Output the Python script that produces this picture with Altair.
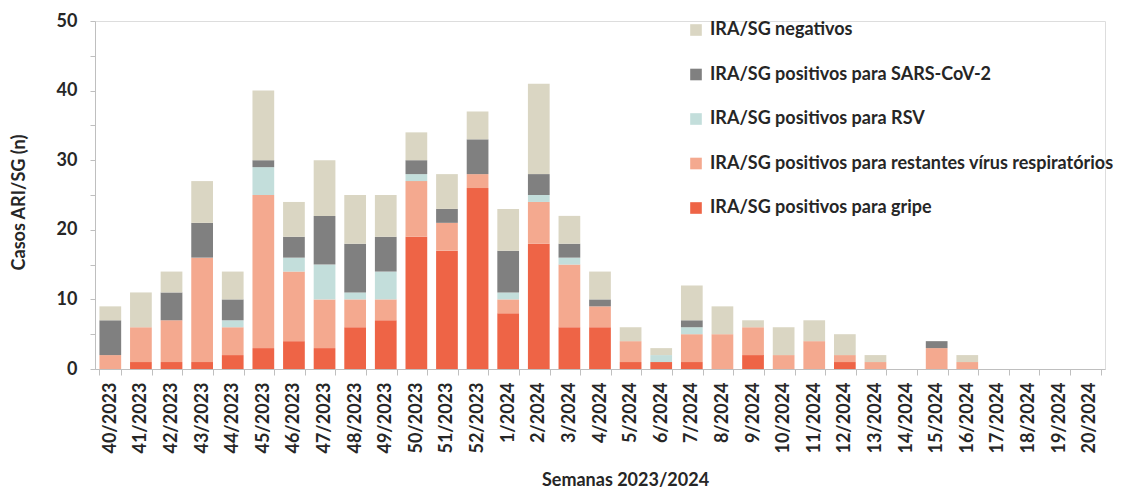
import altair as alt
import pandas as pd

weeks = ["40/2023", "41/2023", "42/2023", "43/2023", "44/2023", "45/2023", "46/2023",
         "47/2023", "48/2023", "49/2023", "50/2023", "51/2023", "52/2023",
         "1/2024", "2/2024", "3/2024", "4/2024", "5/2024", "6/2024", "7/2024", "8/2024",
         "9/2024", "10/2024", "11/2024", "12/2024", "13/2024", "14/2024", "15/2024",
         "16/2024", "17/2024", "18/2024", "19/2024", "20/2024"]

gripe =     [0, 1, 1, 1, 2, 3, 4, 3, 6, 7, 19, 17, 26, 8, 18, 6, 6, 1, 1, 1, 0, 2, 0, 0, 1, 0, 0, 0, 0, 0, 0, 0, 0]
restantes = [2, 5, 6, 15, 4, 22, 10, 7, 4, 3, 8, 4, 2, 2, 6, 9, 3, 3, 0, 4, 5, 4, 2, 4, 1, 1, 0, 3, 1, 0, 0, 0, 0]
rsv =       [0, 0, 0, 0, 1, 4, 2, 5, 1, 4, 1, 0, 0, 1, 1, 1, 0, 0, 1, 1, 0, 0, 0, 0, 0, 0, 0, 0, 0, 0, 0, 0, 0]
sars =      [5, 0, 4, 5, 3, 1, 3, 7, 7, 5, 2, 2, 5, 6, 3, 2, 1, 0, 0, 1, 0, 0, 0, 0, 0, 0, 0, 1, 0, 0, 0, 0, 0]
negativos = [2, 5, 3, 6, 4, 10, 5, 8, 7, 6, 4, 5, 4, 6, 13, 4, 4, 2, 1, 5, 4, 1, 4, 3, 3, 1, 0, 0, 1, 0, 0, 0, 0]

series_names = ["IRA/SG positivos para gripe",
                "IRA/SG positivos para restantes vírus respiratórios",
                "IRA/SG positivos para RSV",
                "IRA/SG positivos para SARS-CoV-2",
                "IRA/SG negativos"]
series_values = [gripe, restantes, rsv, sars, negativos]
series_colors = ["#EE6446", "#F4A98F", "#C3DEDB", "#808080", "#DAD6C3"]

rows = []
for si, (name, vals) in enumerate(zip(series_names, series_values)):
    for w, v in zip(weeks, vals):
        rows.append({"week": w, "series": name, "value": v, "ord": si})
df = pd.DataFrame(rows)

FONT = "Lato"
TXT = "#262626"

legend_order = list(reversed(series_names))
legend_colors = list(reversed(series_colors))

chart = alt.Chart(df).mark_bar().encode(
    x=alt.X("week:N", sort=weeks,
            scale=alt.Scale(paddingInner=0.29, paddingOuter=0.145),
            axis=alt.Axis(title="Semanas 2023/2024", labelAngle=-90, labelFontSize=18,
                          labelFontWeight="bold", labelColor=TXT, labelPadding=7,
                          tickSize=6, tickColor="#BFBFBF", domainColor="#BFBFBF",
                          tickBand="extent",
                          titleFontSize=18, titleFontWeight="bold", titleColor=TXT,
                          titleX=530, titleY=120, titleAlign="center", titleBaseline="bottom")),
    y=alt.Y("value:Q", stack="zero",
            scale=alt.Scale(domain=[0, 50], nice=False),
            axis=alt.Axis(title="Casos ARI/SG (n)", values=list(range(0, 55, 5)),
                          labelExpr="datum.value % 10 == 0 ? datum.label : ''",
                          labelFontSize=18, labelFontWeight="bold", labelColor=TXT,
                          labelPadding=13, tickSize=5, tickColor="#BFBFBF",
                          domainColor="#BFBFBF", grid=False,
                          titleFontSize=18, titleFontWeight="bold", titleColor=TXT,
                          titleX=-76, titleY=181, titleAngle=-90,
                          titleAlign="center", titleBaseline="middle")),
    color=alt.Color("series:N",
                    scale=alt.Scale(domain=legend_order, range=legend_colors),
                    legend=alt.Legend(title=None, orient="none", legendX=592, legendY=0,
                                      symbolType="square", symbolSize=135,
                                      symbolStrokeWidth=0, labelFontSize=18,
                                      labelFontWeight="bold", labelColor=TXT,
                                      labelOffset=5, rowPadding=26.5, padding=0,
                                      labelLimit=600)),
    order=alt.Order("ord:Q", sort="ascending"),
).properties(
    width=1010, height=348,
    autosize=alt.AutoSizeParams(type="none"),
    padding={"left": 87, "top": 13, "right": 17, "bottom": 120},
).configure_view(stroke=None).configure(font=FONT)

chart.save("out.html", embed_options={"renderer": "svg", "actions": False})
